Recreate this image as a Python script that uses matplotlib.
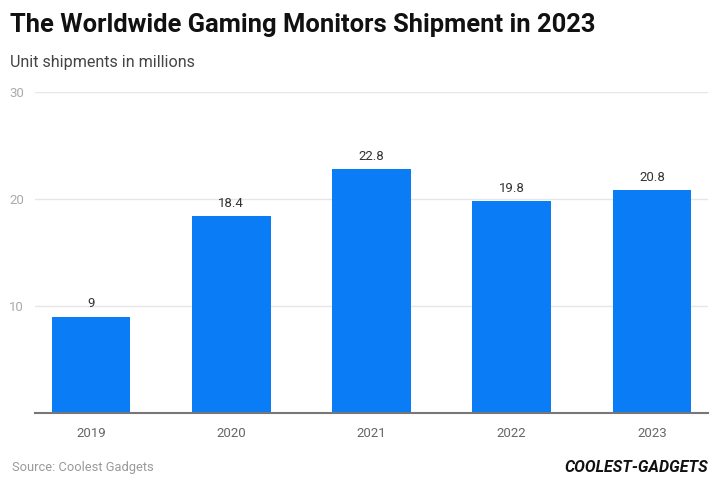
import matplotlib
matplotlib.use("Agg")
import matplotlib.pyplot as plt

years = ["2019", "2020", "2021", "2022", "2023"]
shipments = [9, 18.4, 22.8, 19.8, 20.8]
value_labels = ["9", "18.4", "22.8", "19.8", "20.8"]
yticks = [10, 20, 30]

plt.rcParams['font.family'] = ['Roboto', 'DejaVu Sans']

fig = plt.figure(figsize=(7.2, 4.88), dpi=100)
ax = fig.add_axes([35/720, 1-413/488, (708-35)/720, (413-92)/488])

x = list(range(len(years)))
bars = ax.bar(x, shipments, width=0.56, color="#0A7CF5", zorder=3)
for xi, v, lab in zip(x, shipments, value_labels):
    ax.text(xi, v + 0.6, lab, ha="center", va="bottom", fontsize=9.5, color="#333333")

ax.set_xlim(-0.4, 4.4)
ax.set_ylim(0, 30)
ax.set_yticks(yticks)
ax.set_yticklabels([str(t) for t in yticks])
ax.set_xticks(x)
ax.set_xticklabels(years)
ax.grid(axis="y", color="#e6e6e6", linewidth=1, zorder=0)
for s in ["top", "right", "left"]:
    ax.spines[s].set_visible(False)
ax.spines["bottom"].set_color("#777777")
ax.spines["bottom"].set_linewidth(1.5)
ax.spines["bottom"].set_zorder(4)
ax.tick_params(axis="y", length=0, labelcolor="#aaaaaa", labelsize=9.5, pad=8)
ax.tick_params(axis="x", length=0, labelcolor="#666666", labelsize=9.5, pad=10)

fig.text(10/720, 1-25/488, "The Worldwide Gaming Monitors Shipment in 2023",
         fontsize=18.4, fontweight="bold", color="#111111", va="center", ha="left")
fig.text(10/720, 1-62/488, "Unit shipments in millions",
         fontsize=11.6, color="#444444", va="center", ha="left")
fig.text(12/720, 1-467/488, "Source: Coolest Gadgets",
         fontsize=9.3, color="#999999", va="center", ha="left")
fig.text(708/720, 1-467/488, "COOLEST-GADGETS",
         fontsize=11.5, fontweight="bold", fontstyle="italic", color="#111111",
         va="center", ha="right")

fig.savefig("out.png", dpi=100)
